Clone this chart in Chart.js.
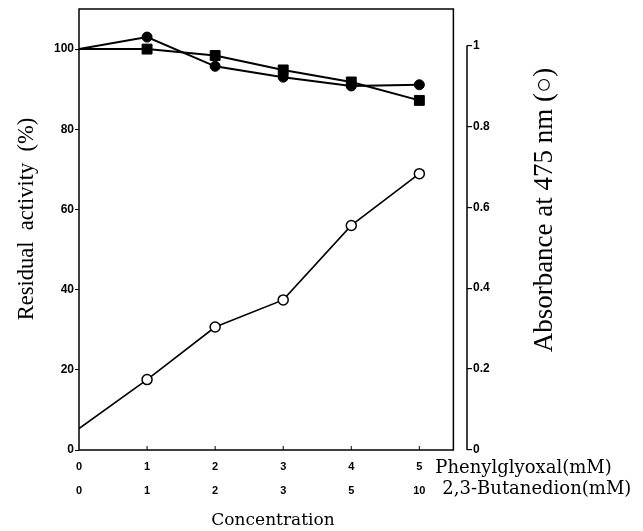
<!DOCTYPE html>
<html>
<head>
<meta charset="utf-8">
<script src="https://cdn.jsdelivr.net/npm/chart.js@4"></script>
<style>
  html, body { margin: 0; padding: 0; background: #fff; }
  #wrap { width: 643px; height: 531px; }
</style>
</head>
<body>
<div id="wrap"><canvas id="chart"></canvas></div>
<script>
// concentration steps on the x axis and the two rows of tick labels
const concentrationSteps = [0, 1, 2, 3, 4, 5];
const phenylglyoxalLabels = ['0', '1', '2', '3', '4', '5'];
const butanedionLabels = ['0', '1', '2', '3', '5', '10'];

// residual activity (%) - filled circles and filled squares
const activityCircles = [100, 103, 95.7, 93.0, 90.8, 91.1];
const activitySquares = [100, 100, 98.4, 94.8, 91.8, 87.2];

// absorbance at 475 nm - open circles
const absorbance475 = [0.053, 0.174, 0.304, 0.371, 0.555, 0.683];

const toPoints = (values) => concentrationSteps.map((c, i) => ({ x: c, y: values[i] }));
const hideFirst = concentrationSteps.map((c, i) => (i === 0 ? 0 : 5));

const frameXMax = 5.5;
const activityMax = 110;

const framePlugin = {
  id: 'frame',
  afterDraw(chart) {
    const { ctx, scales: { x, y, y2 } } = chart;
    const left = x.getPixelForValue(0);
    const right = x.getPixelForValue(frameXMax);
    const top = y.getPixelForValue(activityMax);
    const bottom = y.getPixelForValue(0);

    ctx.save();
    ctx.strokeStyle = '#000';
    ctx.lineWidth = 1.5;
    ctx.strokeRect(left, top, right - left, bottom - top);

    // small inward ticks on the bottom axis
    ctx.lineWidth = 1;
    concentrationSteps.slice(1).forEach((c) => {
      const px = x.getPixelForValue(c);
      ctx.beginPath();
      ctx.moveTo(px, bottom);
      ctx.lineTo(px, bottom - 4);
      ctx.stroke();
    });

    // separate right axis, only from 0 to 1
    ctx.lineWidth = 1.5;
    ctx.beginPath();
    ctx.moveTo(y2.left, y2.getPixelForValue(0));
    ctx.lineTo(y2.left, y2.getPixelForValue(1));
    ctx.stroke();

    // row names next to the x labels
    const x5 = x.getPixelForValue(5);
    ctx.fillStyle = '#000';
    ctx.font = '18px "DejaVu Serif"';
    ctx.textAlign = 'left';
    ctx.textBaseline = 'alphabetic';
    ctx.fillText('Phenylglyoxal(mM)', x5 + 16, 473);
    ctx.fillText('2,3-Butanedion(mM)', x5 + 23, 494);

    // axis titles
    ctx.textAlign = 'center';
    ctx.save();
    ctx.translate(33, 219);
    ctx.rotate(-Math.PI / 2);
    ctx.font = '22.5px "Liberation Serif"';
    ctx.fillText('Residual  activity  (%)', 0, 0);
    ctx.restore();

    ctx.save();
    ctx.translate(552, 210);
    ctx.rotate(-Math.PI / 2);
    ctx.font = '27px "Liberation Serif"';
    ctx.fillText('Absorbance at 475 nm (○)', 0, 0);
    ctx.restore();

    ctx.restore();
  }
};

const tickFont = { family: 'Liberation Sans', weight: 'bold', size: 12 };

new Chart(document.getElementById('chart'), {
  type: 'line',
  data: {
    datasets: [
      {
        label: 'Residual activity (●)',
        data: toPoints(activityCircles),
        yAxisID: 'y',
        borderColor: '#000',
        borderWidth: 2,
        pointStyle: 'circle',
        pointRadius: hideFirst,
        pointBackgroundColor: '#000',
        pointBorderColor: '#000',
        pointBorderWidth: 1
      },
      {
        label: 'Residual activity (■)',
        data: toPoints(activitySquares),
        yAxisID: 'y',
        borderColor: '#000',
        borderWidth: 2,
        pointStyle: 'rect',
        pointRadius: concentrationSteps.map((c, i) => (i === 0 ? 0 : 7)),
        pointBackgroundColor: '#000',
        pointBorderColor: '#000',
        pointBorderWidth: 1
      },
      {
        label: 'Absorbance at 475 nm (○)',
        data: toPoints(absorbance475),
        yAxisID: 'y2',
        borderColor: '#000',
        borderWidth: 1.6,
        pointStyle: 'circle',
        pointRadius: hideFirst,
        pointBackgroundColor: '#fff',
        pointBorderColor: '#000',
        pointBorderWidth: 1.5
      }
    ]
  },
  options: {
    responsive: true,
    maintainAspectRatio: false,
    animation: false,
    layout: { padding: { top: 9, left: 0, right: 0, bottom: 0 } },
    plugins: {
      legend: { display: false },
      tooltip: { enabled: false }
    },
    scales: {
      x: {
        type: 'linear',
        min: 0,
        max: 5.7,
        afterFit: (scale) => { scale.height = 81; },
        grid: { display: false, drawTicks: false },
        border: { display: false },
        ticks: {
          stepSize: 1,
          includeBounds: false,
          autoSkip: false,
          maxRotation: 0,
          padding: 5,
          color: '#000',
          font: { family: 'Liberation Sans', weight: 'bold', size: 11, lineHeight: 24 / 11 },
          callback: (v) => {
            const i = concentrationSteps.indexOf(v);
            return i >= 0 ? [phenylglyoxalLabels[i], butanedionLabels[i]] : '';
          }
        },
        title: {
          display: true,
          text: 'Concentration',
          color: '#000',
          padding: 0,
          font: { family: 'DejaVu Serif', size: 17 }
        }
      },
      y: {
        position: 'left',
        min: 0,
        max: activityMax,
        afterFit: (scale) => { scale.width = 79; },
        grid: { drawOnChartArea: false, drawTicks: true, tickLength: 4, color: '#000' },
        border: { display: false },
        ticks: {
          stepSize: 20,
          includeBounds: false,
          padding: 1,
          color: '#000',
          font: tickFont
        }
      },
      y2: {
        position: 'right',
        min: 0,
        max: 1.09,
        afterFit: (scale) => { scale.width = 176; },
        grid: { drawOnChartArea: false, drawTicks: true, tickLength: 5, color: '#000', lineWidth: 1.2 },
        border: { display: false },
        ticks: {
          stepSize: 0.2,
          includeBounds: false,
          padding: 1,
          color: '#000',
          font: tickFont,
          callback: (v) => (v === 0 || v === 1 ? String(v) : v.toFixed(1))
        }
      }
    }
  },
  plugins: [framePlugin]
});
</script>
</body>
</html>
